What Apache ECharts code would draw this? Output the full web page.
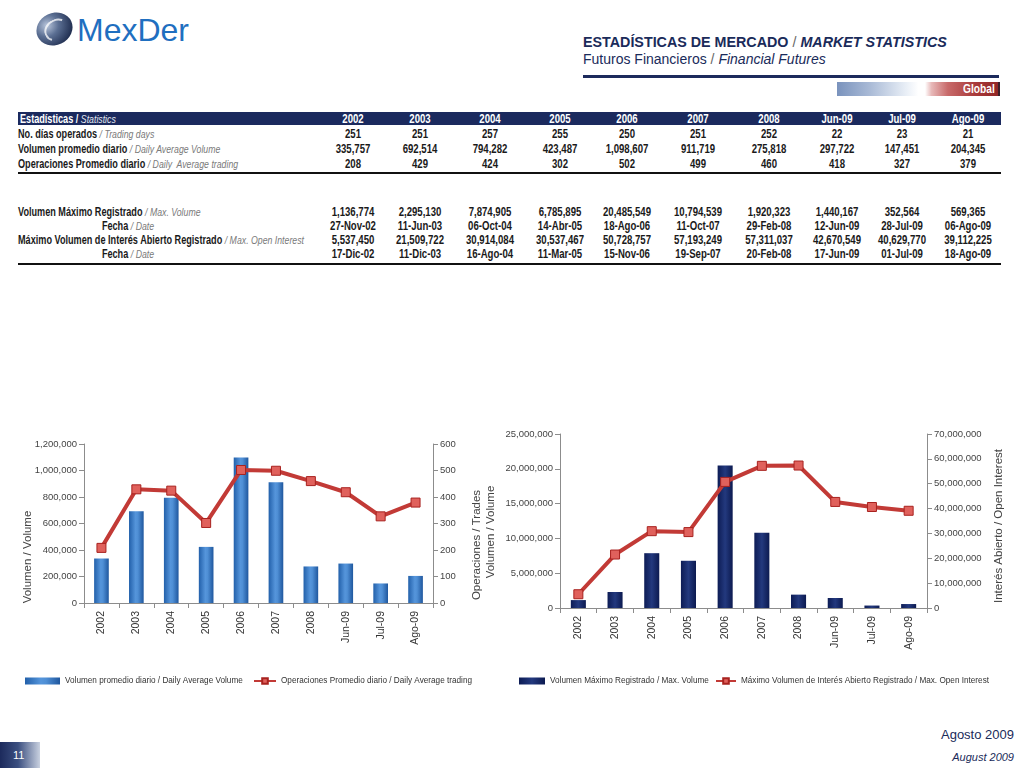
<!DOCTYPE html>
<html>
<head>
<meta charset="utf-8">
<script src="https://cdn.jsdelivr.net/npm/echarts@6/dist/echarts.min.js"></script>
<style>
  html, body { margin:0; padding:0; background:#fff; }
  body { width:1024px; height:768px; position:relative; overflow:hidden; font-family:"Liberation Sans", Arial, sans-serif; }
  .abs { position:absolute; white-space:nowrap; }
  .cell { position:absolute; white-space:nowrap; font-family:"Liberation Sans",Arial,sans-serif; font-size:12px; line-height:14px; font-weight:bold; color:#1a1a1a; transform:translate(-50%,-50%) scaleX(0.8); }
  .lab { position:absolute; white-space:nowrap; font-family:"Liberation Sans",Arial,sans-serif; font-size:12px; line-height:14px; font-weight:bold; color:#1a1a1a; transform:translateY(-50%) scaleX(0.76); transform-origin:0 50%; }
  .lab i { font-weight:normal; color:#7a7a7a; font-size:11.5px; }
  .labc { transform:translate(-50%,-50%) scaleX(0.76); transform-origin:50% 50%; }
  #chart { position:absolute; left:0; top:400px; width:1024px; height:300px; }
</style>
</head>
<body>
<!-- Logo -->
<div class="abs" style="left:36px;top:13px;width:37px;height:32px;border-radius:50%;background:radial-gradient(ellipse at 35% 30%, #b9c6dc 0%, #5b6f93 35%, #1d2b4d 80%);transform:rotate(-25deg);"></div>
<div class="abs" style="left:44px;top:19px;width:22px;height:18px;border-radius:50%;border:2px solid rgba(255,255,255,0.75);border-right-color:transparent;border-bottom-color:transparent;transform:rotate(-25deg);"></div>
<div class="abs" style="left:77px;top:12px;font-size:32px;line-height:36px;color:#1f6fc0;font-family:'Liberation Sans',Arial,sans-serif;">MexDer</div>

<!-- Header -->
<div class="abs" style="left:583px;top:34px;font-size:14.3px;line-height:17px;font-weight:bold;color:#1a2b5a;">ESTADÍSTICAS DE MERCADO <span style="font-weight:normal;color:#666;">/</span> <i>MARKET STATISTICS</i></div>
<div class="abs" style="left:583px;top:51px;font-size:14px;line-height:17px;color:#1a2b5a;">Futuros Financieros <span style="color:#666;">/</span> <i>Financial Futures</i></div>
<div class="abs" style="left:583px;top:75px;width:416px;height:3px;background:#1c2a5c;"></div>
<div class="abs" style="left:837px;top:82px;width:163px;height:14px;background:linear-gradient(to right,#7a93bd 0%,#a9bad6 20%,#e8eef6 42%,#ffffff 50%,#ffffff 54%,#e7b8b8 58%,#c86a6a 68%,#a83a3a 85%,#8f2424 100%);"></div>
<div class="abs" style="left:998px;top:82px;width:2px;height:14px;background:#3a1f2a;"></div>
<div class="abs" style="left:963px;top:82px;font-size:12px;line-height:14px;font-weight:bold;color:#fff;transform:scaleX(0.85);transform-origin:0 0;">Global</div>

<div id="tables"></div>

<!-- Footer -->
<div class="abs" style="left:0;top:742px;width:40px;height:26px;background:linear-gradient(to right,#1c2a5c 0%,#3b4f80 45%,#c9d1e0 100%);"></div>
<div class="abs" style="left:13px;top:748px;font-size:11px;line-height:14px;color:#fff;">11</div>
<div class="abs" style="right:10px;top:727px;font-size:13px;line-height:16px;color:#1a2b5a;">Agosto 2009</div>
<div class="abs" style="right:10px;top:750px;font-size:11px;line-height:14px;color:#1a2b5a;font-style:italic;">August 2009</div>

<div id="chart"></div>

<script>
// ---------------- DATA ----------------
var categories = ['2002','2003','2004','2005','2006','2007','2008','Jun-09','Jul-09','Ago-09'];
var tradingDays = [251, 251, 257, 255, 250, 251, 252, 22, 23, 21];
var avgVolume = [335757, 692514, 794282, 423487, 1098607, 911719, 275818, 297722, 147451, 204345];
var avgTrades = [208, 429, 424, 302, 502, 499, 460, 418, 327, 379];
var maxVolume = [1136774, 2295130, 7874905, 6785895, 20485549, 10794539, 1920323, 1440167, 352564, 569365];
var maxVolumeDate = ['27-Nov-02','11-Jun-03','06-Oct-04','14-Abr-05','18-Ago-06','11-Oct-07','29-Feb-08','12-Jun-09','28-Jul-09','06-Ago-09'];
var maxOpenInterest = [5537450, 21509722, 30914084, 30537467, 50728757, 57193249, 57311037, 42670549, 40629770, 39112225];
var maxOpenInterestDate = ['17-Dic-02','11-Dic-03','16-Ago-04','11-Mar-05','15-Nov-06','19-Sep-07','20-Feb-08','17-Jun-09','01-Jul-09','18-Ago-09'];

// ---------------- TABLES ----------------
var colX = [353, 420, 490, 560, 627, 698, 769, 837, 902, 968];
function fmt(n){ return n.toString().replace(/\B(?=(\d{3})+(?!\d))/g, ','); }
var html = '';
html += '<div class="abs" style="left:18px;top:112px;width:983px;height:13px;background:#1b2a5e;"></div>';
html += '<div class="lab" style="left:20px;top:119px;color:#fff;">Estadísticas / <i style="color:#e4e8f0;">Statistics</i></div>';
categories.forEach(function(c,i){ html += '<div class="cell" style="left:'+colX[i]+'px;top:119px;color:#fff;">'+c+'</div>'; });
function row(label, italic, vals, y, center){
  var s = center ? '<div class="lab labc" style="left:128px;top:'+y+'px;">'+label+' <i>/ '+italic+'</i></div>'
                 : '<div class="lab" style="left:18px;top:'+y+'px;">'+label+' <i>/ '+italic+'</i></div>';
  vals.forEach(function(v,i){ s += '<div class="cell" style="left:'+colX[i]+'px;top:'+y+'px;">'+v+'</div>'; });
  return s;
}
html += row('No. días operados','Trading days', tradingDays.map(fmt), 134);
html += row('Volumen promedio diario','Daily Average Volume', avgVolume.map(fmt), 149);
html += row('Operaciones Promedio diario','Daily&nbsp; Average trading', avgTrades.map(fmt), 164);
html += '<div class="abs" style="left:18px;top:172px;width:983px;height:2px;background:#111;"></div>';
html += row('Volumen Máximo Registrado','Max. Volume', maxVolume.map(fmt), 212);
html += row('Fecha','Date', maxVolumeDate, 226, true);
html += row('Máximo Volumen de Interés Abierto Registrado','Max. Open Interest', maxOpenInterest.map(fmt), 240);
html += row('Fecha','Date', maxOpenInterestDate, 254, true);
html += '<div class="abs" style="left:18px;top:263px;width:983px;height:2px;background:#111;"></div>';
document.getElementById('tables').innerHTML = html;

// ---------------- CHARTS ----------------
var chart = echarts.init(document.getElementById('chart'), null, {renderer:'canvas'});
var font = '"Liberation Sans",Arial,sans-serif';
var axisLine = { show:true, lineStyle:{ color:'#8c8c8c', width:1 } };
var axisTick = { show:true, length:5, lineStyle:{ color:'#8c8c8c' } };
var yLabel = { color:'#444', fontSize:9.5, fontFamily:font, margin:7, formatter:function(v){ return fmt(v); } };
var xLabel = { color:'#333', fontSize:10.5, fontFamily:font, rotate:90, margin:8, interval:0 };

var blueBar = new echarts.graphic.LinearGradient(0,0,1,0,[
  {offset:0,color:'#2260aa'},{offset:0.45,color:'#5595db'},{offset:0.6,color:'#4f8fd5'},{offset:1,color:'#1f579e'}]);
var navyBar = new echarts.graphic.LinearGradient(0,0,1,0,[
  {offset:0,color:'#0d1c55'},{offset:0.5,color:'#23397e'},{offset:1,color:'#0c1a50'}]);
var lineStyle = { color:'#c23a36', width:4 };
var itemStyle = { color:'#e0615c', borderColor:'#a8221f', borderWidth:1 };
var legText = { fontSize:8.2, fontFamily:font, color:'#333' };

function vText(x, y, text){
  return { type:'text', x:x, y:y, rotation:Math.PI/2,
    style:{ text:text, fill:'#444', font:'11.5px "Liberation Sans", Arial, sans-serif',
      align:'center', verticalAlign:'middle', textAlign:'center', textVerticalAlign:'middle' } };
}
function leg(left, name, icon, w){
  var d = { name:name }; if (icon) d.icon = icon;
  return { left:left, top:272, itemWidth:w, itemHeight:7, itemGap:4, textStyle:legText, data:[d] };
}

var n1 = 'Volumen promedio diario / Daily Average Volume';
var n2 = 'Operaciones Promedio diario / Daily Average trading';
var n3 = 'Volumen Máximo Registrado / Max. Volume';
var n4 = 'Máximo Volumen de Interés Abierto Registrado / Max. Open Interest';

chart.setOption({
  animation:false,
  grid:[
    { left:84, top:44, width:349, height:159 },
    { left:560, top:34, width:367, height:174 }
  ],
  xAxis:[
    { type:'category', gridIndex:0, data:categories, axisLine:axisLine, axisTick:axisTick, axisLabel:xLabel },
    { type:'category', gridIndex:1, data:categories, axisLine:axisLine, axisTick:axisTick, axisLabel:xLabel }
  ],
  yAxis:[
    { type:'value', gridIndex:0, min:0, max:1200000, interval:200000, axisLine:axisLine, axisTick:axisTick, axisLabel:yLabel, splitLine:{show:false} },
    { type:'value', gridIndex:0, position:'right', min:0, max:600, interval:100, axisLine:axisLine, axisTick:axisTick, axisLabel:yLabel, splitLine:{show:false} },
    { type:'value', gridIndex:1, min:0, max:25000000, interval:5000000, axisLine:axisLine, axisTick:axisTick, axisLabel:yLabel, splitLine:{show:false} },
    { type:'value', gridIndex:1, position:'right', min:0, max:70000000, interval:10000000, axisLine:axisLine, axisTick:axisTick, axisLabel:yLabel, splitLine:{show:false} }
  ],
  legend:[
    leg(20, n1, 'rect', 35),
    leg(248, n2, null, 22),
    leg(514, n3, 'rect', 26),
    leg(710, n4, null, 20)
  ],
  graphic:[
    vText(28, 157, 'Volumen / Volume'),
    vText(477, 145, 'Operaciones / Trades'),
    vText(491, 132, 'Volumen / Volume'),
    vText(999, 126, 'Interés Abierto / Open Interest')
  ],
  series:[
    { name:n1, type:'bar', xAxisIndex:0, yAxisIndex:0, data:avgVolume, barWidth:'42%', itemStyle:{ color:blueBar } },
    { name:n2, type:'line', xAxisIndex:0, yAxisIndex:1, data:avgTrades, symbol:'rect', symbolSize:9, lineStyle:lineStyle, itemStyle:itemStyle },
    { name:n3, type:'bar', xAxisIndex:1, yAxisIndex:2, data:maxVolume, barWidth:'41%', itemStyle:{ color:navyBar } },
    { name:n4, type:'line', xAxisIndex:1, yAxisIndex:3, data:maxOpenInterest, symbol:'rect', symbolSize:9, lineStyle:lineStyle, itemStyle:itemStyle }
  ]
});
</script>
</body>
</html>
